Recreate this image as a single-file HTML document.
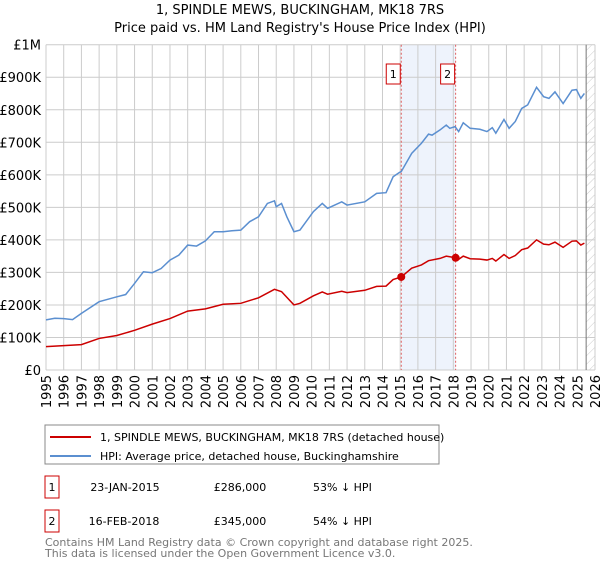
<!DOCTYPE html>
<html><head><meta charset="utf-8"><style>
body{margin:0;background:#fff;font-family:"Liberation Sans","DejaVu Sans",sans-serif;}
svg text{font-family:"DejaVu Sans","Liberation Sans",sans-serif;}
</style></head><body>
<svg id="chart" width="600" height="560" xmlns="http://www.w3.org/2000/svg">
<defs><pattern id="hatch" width="6" height="6" patternUnits="userSpaceOnUse" patternTransform="rotate(45)"><line x1="0" y1="0" x2="0" y2="6" stroke="#ccc" stroke-width="1"/></pattern></defs>
<text x="300" y="14" text-anchor="middle" font-size="13">1, SPINDLE MEWS, BUCKINGHAM, MK18 7RS</text>
<text x="300" y="32" text-anchor="middle" font-size="13">Price paid vs. HM Land Registry's House Price Index (HPI)</text>
<g id="grid"></g><g id="marks"></g><g id="axes"></g>
<rect x="45" y="425" width="394" height="39" fill="#fff" stroke="#888"/>
<line x1="50" y1="437" x2="91" y2="437" stroke="#cc0000" stroke-width="2"/>
<text x="100" y="441" font-size="11">1, SPINDLE MEWS, BUCKINGHAM, MK18 7RS (detached house)</text>
<line x1="50" y1="456" x2="91" y2="456" stroke="#5b8fd0" stroke-width="2"/>
<text x="100" y="460" font-size="11">HPI: Average price, detached house, Buckinghamshire</text>
<rect x="45" y="476" width="14" height="22" fill="#fff" stroke="#cc0000"/>
<text x="52" y="491" font-size="11" text-anchor="middle">1</text>
<text x="125" y="491" font-size="11" text-anchor="middle">23-JAN-2015</text>
<text x="240" y="491" font-size="11" text-anchor="middle">£286,000</text>
<text x="313" y="491" font-size="11">53% ↓ HPI</text>
<rect x="45" y="510" width="14" height="22" fill="#fff" stroke="#cc0000"/>
<text x="52" y="525" font-size="11" text-anchor="middle">2</text>
<text x="124" y="525" font-size="11" text-anchor="middle">16-FEB-2018</text>
<text x="240" y="525" font-size="11" text-anchor="middle">£345,000</text>
<text x="313" y="525" font-size="11">54% ↓ HPI</text>
<text x="45" y="546" font-size="11" fill="#777">Contains HM Land Registry data © Crown copyright and database right 2025.</text>
<text x="45" y="557" font-size="11" fill="#777">This data is licensed under the Open Government Licence v3.0.</text>
</svg>
<script>
const yTicks=[0,100000,200000,300000,400000,500000,600000,700000,800000,900000,1000000];
const yTickLabels=["£0","£100K","£200K","£300K","£400K","£500K","£600K","£700K","£800K","£900K","£1M"];
const xYears=[1995,1996,1997,1998,1999,2000,2001,2002,2003,2004,2005,2006,2007,2008,2009,2010,2011,2012,2013,2014,2015,2016,2017,2018,2019,2020,2021,2022,2023,2024,2025,2026];
const hpiT=[1995,1995.5,1996,1996.5,1997,1998,1999,1999.5,2000,2000.5,2001,2001.5,2002,2002.5,2003,2003.5,2004,2004.5,2005,2005.5,2006,2006.5,2007,2007.5,2007.9,2008,2008.3,2008.6,2009,2009.34,2010.1,2010.6,2010.9,2011.7,2012,2013,2013.67,2014.2,2014.6,2014.95,2015.06,2015.65,2016.2,2016.6,2016.8,2017.25,2017.6,2017.8,2018.1,2018.3,2018.56,2018.95,2019.5,2019.9,2020.2,2020.4,2020.86,2021.15,2021.5,2021.86,2022.2,2022.7,2023.1,2023.4,2023.74,2024.2,2024.7,2024.95,2025.2,2025.4];
const hpiV=[154,159,158,155,174,210,225,232,266,302,299,312,338,353,384,381,397,425,425,428,430,456,471,512,520,502,512,471,425,430,487,512,497,517,507,517,543,545,594,607,610,666,697,725,722,738,753,743,748,733,760,743,740,733,745,728,770,743,764,804,815,869,840,835,855,819,860,862,835,850];
const redT=[1995,1996,1997,1998,1999,2000,2001,2002,2003,2004,2005,2006,2007,2007.9,2008.3,2009,2009.34,2010.1,2010.6,2010.9,2011.7,2012,2013,2013.67,2014.2,2014.6,2015.06,2015.65,2016.2,2016.6,2017.25,2017.6,2018.13,2018.3,2018.56,2018.95,2019.5,2019.9,2020.2,2020.4,2020.86,2021.15,2021.5,2021.86,2022.2,2022.7,2023.1,2023.4,2023.74,2024.2,2024.7,2024.95,2025.2,2025.4];
const redV=[72,75,78,97,106,122,141,158,181,188,202,205,222,248,241,200,205,228,240,233,242,238,245,257,258,278,286,313,323,336,343,350,345,340,350,342,341,338,343,335,355,343,352,370,375,400,387,385,393,377,396,397,384,390];
const saleT=[2015.06,2018.13];
const saleV=[286000,345000];
const saleLabels=["1","2"];
const NS="http://www.w3.org/2000/svg";
const L=46,R=595,T=44.7,B=370;
const X=y=>L+(y-1995)*(R-L)/31;
const Y=v=>B-v/1000000*(B-T);
function mk(tag,attrs,parent){const e=document.createElementNS(NS,tag);for(const k in attrs)e.setAttribute(k,attrs[k]);document.getElementById(parent).appendChild(e);return e;}
let sh=mk('rect',{x:X(saleT[0]),y:T,width:X(saleT[1])-X(saleT[0]),height:B-T,fill:'#eef3fc'},'grid');


let ht=mk('rect',{x:X(2025.5),y:T,width:R-X(2025.5),height:B-T,fill:'url(#hatch)'},'grid');


yTicks.forEach((v,i)=>{
 let g=mk('line',{x1:L,x2:R,y1:Y(v),y2:Y(v),stroke:'#ccc'},'grid');
 
 
 let t=mk('text',{x:L-5,y:Y(v)+5,'text-anchor':'end','font-size':'13'},'axes');t.textContent=yTickLabels[i];
 
 
});
xYears.forEach(yr=>{
 let g=mk('line',{x1:X(yr),x2:X(yr),y1:T,y2:B,stroke:'#ccc'},'grid');
 
 
 let t=mk('text',{x:0,y:0,'text-anchor':'end','font-size':'13',transform:`translate(${X(yr)+5},${B+5}) rotate(-90)`},'axes');t.textContent=yr;
 
 
});
let cur=mk('line',{x1:X(2025.5),x2:X(2025.5),y1:T,y2:B,stroke:'#777'},'grid');


saleT.forEach((t,i)=>{
 let l=mk('line',{x1:X(t),x2:X(t),y1:T,y2:B,stroke:'#e06060','stroke-dasharray':'2,2'},'grid');
 
 
 let b=mk('rect',{x:X(t)-15,y:64,width:14,height:20,fill:'#fff',stroke:'#cc0000'},'marks');
 
 
 let tx=mk('text',{x:X(t)-8,y:78,'text-anchor':'middle','font-size':'11'},'marks');tx.textContent=saleLabels[i];
 
 
});
let hp=mk('polyline',{points:hpiT.map((t,i)=>X(t)+','+Y(hpiV[i]*1000)).join(' '),fill:'none',stroke:'#5b8fd0','stroke-width':'1.5'},'marks');


let rd=mk('polyline',{points:redT.map((t,i)=>X(t)+','+Y(redV[i]*1000)).join(' '),fill:'none',stroke:'#cc0000','stroke-width':'1.5'},'marks');


saleT.forEach((t,i)=>{
 let c=mk('circle',{cx:X(t),cy:Y(saleV[i]),r:4,fill:'#cc0000'},'marks');
 
 
});
</script>
</body></html>
